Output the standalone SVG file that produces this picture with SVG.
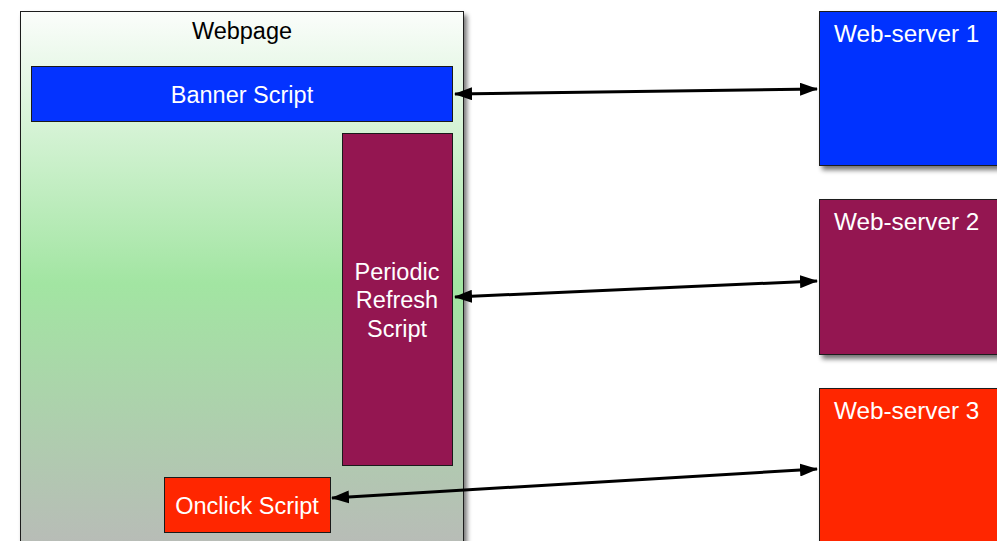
<svg xmlns="http://www.w3.org/2000/svg" width="997" height="541" viewBox="0 0 997 541">
  <defs>
    <linearGradient id="pageFill" x1="0" y1="0" x2="0" y2="1" gradientUnits="objectBoundingBox">
      <stop offset="0" stop-color="#fbfdfb"/>
      <stop offset="0.5" stop-color="#a2e5a2"/>
      <stop offset="1" stop-color="#b9bab8"/>
    </linearGradient>
    <filter id="shadow" x="-10%" y="-10%" width="130%" height="130%">
      <feGaussianBlur in="SourceAlpha" stdDeviation="2.5"/>
      <feOffset dx="3" dy="4" result="blur"/>
      <feComponentTransfer><feFuncA type="linear" slope="0.55"/></feComponentTransfer>
      <feMerge><feMergeNode/><feMergeNode in="SourceGraphic"/></feMerge>
    </filter>
    <marker id="head" viewBox="0 0 18 13" refX="17" refY="6.5" markerWidth="18" markerHeight="13" markerUnits="userSpaceOnUse" orient="auto-start-reverse">
      <path d="M0,0 L18,6.5 L0,13 Z" fill="#000"/>
    </marker>
    <style>
      .box { stroke: #1a1a1a; stroke-width: 1; }
      .lbl { font-family: "Liberation Sans", Arial, sans-serif; font-size: 23.5px; fill: #ffffff; }
      .srv { font-size: 24.3px; }
      .dark { fill: #000000; }
      .link { stroke: #000; stroke-width: 3; fill: none; marker-start: url(#head); marker-end: url(#head); }
    </style>
  </defs>
  <rect width="997" height="541" fill="#ffffff"/>

  <g id="webpage">
    <rect class="box" x="20.5" y="11.5" width="443" height="545" fill="url(#pageFill)" filter="url(#shadow)"/>
    <text class="lbl dark" x="242" y="39" text-anchor="middle">Webpage</text>
  </g>

  <g id="banner-script">
    <rect class="box" x="31.5" y="66.5" width="421" height="55" fill="#0433ff"/>
    <text class="lbl" x="242" y="103" text-anchor="middle">Banner Script</text>
  </g>

  <g id="periodic-refresh-script">
    <rect class="box" x="342.5" y="133.5" width="110" height="332" fill="#941651"/>
    <text class="lbl" x="397" y="280" text-anchor="middle">Periodic</text>
    <text class="lbl" x="397" y="308" text-anchor="middle">Refresh</text>
    <text class="lbl" x="397" y="337" text-anchor="middle">Script</text>
  </g>

  <g id="onclick-script">
    <rect class="box" x="164.5" y="477.5" width="166" height="55" fill="#ff2600"/>
    <text class="lbl" x="247" y="514" text-anchor="middle">Onclick Script</text>
  </g>

  <g id="web-server-1">
    <rect class="box" x="819.5" y="11.5" width="190" height="154" fill="#0433ff" filter="url(#shadow)"/>
    <text class="lbl srv" x="834" y="42">Web-server 1</text>
  </g>

  <g id="web-server-2">
    <rect class="box" x="819.5" y="199.5" width="190" height="155" fill="#941651" filter="url(#shadow)"/>
    <text class="lbl srv" x="834" y="230">Web-server 2</text>
  </g>

  <g id="web-server-3">
    <rect class="box" x="819.5" y="388.5" width="190" height="170" fill="#ff2600" filter="url(#shadow)"/>
    <text class="lbl srv" x="834" y="419">Web-server 3</text>
  </g>

  <g id="connectors">
    <line class="link" x1="455" y1="94" x2="817" y2="89"/>
    <line class="link" x1="455" y1="297" x2="817" y2="281"/>
    <line class="link" x1="332" y1="498" x2="817" y2="469"/>
  </g>
</svg>
